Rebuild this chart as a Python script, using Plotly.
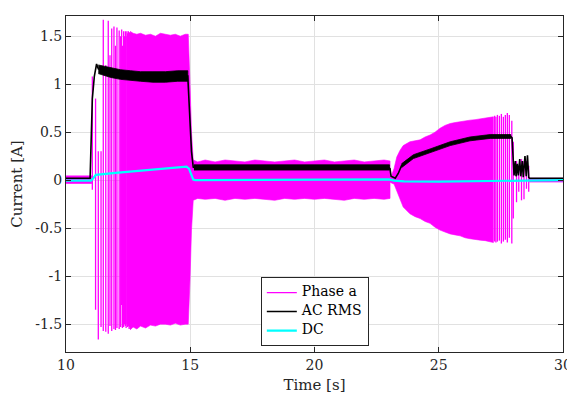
import plotly.graph_objects as go

# ---------------- data ----------------
# Phase a: dense oscillation envelopes (time [s], upper, lower)
pa_pre_t = [10.0, 10.5, 11.04]
pa_pre_hi = [0.045, 0.045, 0.045]
pa_pre_lo = [-0.035, -0.035, -0.035]

pa_main_t = [12.58, 12.7, 12.85, 13.0, 13.2, 13.4, 13.6, 13.8, 14.0, 14.2, 14.4, 14.6, 14.8, 14.92,
             14.99, 15.05, 15.12, 15.3, 15.6, 16.0, 16.4, 16.8, 17.2, 17.6, 18.0, 18.4, 18.8,
             19.2, 19.6, 20.0, 20.4, 20.8, 21.2, 21.6, 22.0, 22.4, 22.8, 23.04]
pa_main_hi = [1.55, 1.53, 1.52, 1.53, 1.51, 1.52, 1.50, 1.53, 1.52, 1.51, 1.52, 1.50, 1.52, 1.52,
              1.0, 0.5, 0.21, 0.19, 0.21, 0.19, 0.21, 0.20, 0.19, 0.21, 0.20, 0.19, 0.20,
              0.21, 0.19, 0.20, 0.21, 0.19, 0.20, 0.21, 0.19, 0.20, 0.21, 0.20]
pa_main_lo = [-1.56, -1.53, -1.55, -1.52, -1.54, -1.51, -1.52, -1.50, -1.50, -1.51, -1.49, -1.51, -1.50, -1.50,
              -1.04, -0.52, -0.21, -0.19, -0.20, -0.19, -0.21, -0.19, -0.20, -0.19, -0.20, -0.21, -0.19,
              -0.20, -0.19, -0.20, -0.19, -0.20, -0.21, -0.19, -0.20, -0.19, -0.20, -0.19]

pa_load_t = [23.04, 23.1, 23.2, 23.31, 23.44, 23.57, 23.84, 24.05, 24.25, 24.45, 24.65, 24.85, 25.05,
             25.25, 25.46, 25.66, 25.86, 26.06, 26.26, 26.46, 26.67, 26.87, 27.07, 27.2]
pa_load_hi = [0.03, 0.05, 0.12, 0.24, 0.31, 0.36, 0.40, 0.41, 0.42, 0.45, 0.47, 0.50, 0.54,
              0.57, 0.59, 0.60, 0.61, 0.62, 0.625, 0.63, 0.64, 0.65, 0.66, 0.66]
pa_load_lo = [-0.02, -0.03, -0.04, -0.12, -0.20, -0.28, -0.35, -0.38, -0.40, -0.43, -0.45, -0.49, -0.52,
              -0.54, -0.56, -0.57, -0.58, -0.60, -0.61, -0.62, -0.625, -0.63, -0.64, -0.65]

pa_post_t = [28.64, 29.3, 30.0]
pa_post_hi = [0.02, 0.02, 0.02]
pa_post_lo = [-0.02, -0.02, -0.02]

# Phase a: individually visible strokes (time, top, bottom)
stroke_t = [11.06, 11.19, 11.30, 11.41, 11.50, 11.60, 11.70, 11.77, 11.84, 11.93, 11.99, 12.05,
            12.14, 12.20, 12.24, 12.27, 12.32, 12.36, 12.39, 12.42, 12.45, 12.48, 12.51, 12.54,
            12.56, 12.59,
            27.25, 27.30, 27.36, 27.44, 27.52, 27.60, 27.68, 27.76, 27.84, 27.94, 28.0,
            28.13, 28.22, 28.33, 28.43, 28.53, 28.62]
stroke_hi = [1.08, 0.85, 0.30, 0.30, 1.67, 1.20, 1.66, 1.30, 1.58, 1.60, 1.40, 1.59,
             1.56, 1.50, 1.57, 1.40, 1.55, 1.50, 1.55, 1.50, 1.55, 1.53, 1.55, 1.52,
             1.54, 1.53,
             0.67, 0.66, 0.68, 0.67, 0.69, 0.66, 0.68, 0.70, 0.68, 0.62, 0.40,
             0.20, 0.15, 0.22, 0.20, 0.20, 0.15]
stroke_lo = [-0.10, -1.35, -1.66, -1.53, -1.57, -1.58, -1.60, -1.52, -1.57, -1.55, -1.56, -1.54,
             -1.55, -1.53, -1.30, -1.54, -1.53, -1.50, -1.52, -1.54, -1.50, -1.53, -1.52, -1.55,
             -1.53, -1.55,
             -0.64, -0.65, -0.64, -0.63, -0.66, -0.64, -0.62, -0.65, -0.60, -0.66, -0.40,
             -0.23, -0.12, -0.21, -0.20, -0.09, -0.12]

# AC RMS centre line
rms_t = [10.0, 10.97, 11.0, 11.06, 11.14, 11.23, 11.3, 11.5, 11.8, 12.2, 12.6, 13.0, 13.5, 14.0,
         14.5, 14.9, 14.97, 15.05, 15.12, 15.2, 17.0, 19.0, 21.0, 23.0, 23.04, 23.08, 23.25,
         23.37, 23.5, 23.71, 23.98, 24.25, 24.65, 25.05, 25.46, 25.86, 26.26, 26.67, 27.07,
         27.5, 27.9, 27.95, 28.0, 28.03, 28.08, 28.11, 28.16, 28.2, 28.26, 28.3, 28.36, 28.4,
         28.47, 28.52, 28.57, 28.62, 28.66, 30.0]
rms_v = [0.02, 0.02, 0.3, 0.85, 1.08, 1.21, 1.16, 1.14, 1.12, 1.10, 1.09, 1.08, 1.075, 1.075,
         1.085, 1.085, 0.7, 0.3, 0.135, 0.13, 0.13, 0.13, 0.13, 0.13, 0.12, 0.04, 0.02,
         0.07, 0.15, 0.20, 0.245, 0.275, 0.305, 0.345, 0.38, 0.41, 0.43, 0.45, 0.455,
         0.455, 0.455, 0.44, 0.15, 0.05, 0.20, 0.04, 0.17, 0.05, 0.22, 0.04, 0.20, 0.03,
         0.25, 0.04, 0.26, 0.03, 0.02, 0.02]

# AC RMS noise band (time, upper, lower)
rmsb_t = [11.3, 11.5, 11.8, 12.2, 12.6, 13.0, 13.5, 14.0, 14.5, 14.9]
rmsb_hi = [1.20, 1.19, 1.17, 1.15, 1.14, 1.13, 1.13, 1.13, 1.14, 1.14]
rmsb_lo = [1.11, 1.09, 1.07, 1.05, 1.04, 1.03, 1.02, 1.02, 1.03, 1.03]
rmsb2_t = [15.15, 17.0, 19.0, 21.0, 23.02]
rmsb2_hi = [0.16, 0.16, 0.16, 0.16, 0.16]
rmsb2_lo = [0.105, 0.105, 0.105, 0.105, 0.105]
rmsb3_t = [23.5, 23.98, 24.65, 25.46, 26.26, 27.07, 27.9]
rmsb3_hi = [0.17, 0.265, 0.325, 0.40, 0.45, 0.475, 0.475]
rmsb3_lo = [0.13, 0.225, 0.285, 0.36, 0.41, 0.435, 0.435]

# DC component
dc_t = [10.0, 11.0, 11.1, 11.2, 12.0, 13.0, 14.0, 14.85, 14.95, 15.05, 15.12, 15.2, 19.0, 23.0,
        23.2, 23.6, 25.0, 26.0, 27.0, 28.0, 30.0]
dc_v = [-0.005, -0.005, 0.02, 0.055, 0.075, 0.10, 0.12, 0.14, 0.12, 0.04, 0.005, 0.0, 0.005, 0.008,
        -0.005, -0.012, -0.015, -0.012, -0.005, 0.0, 0.0]

series_names = ['Phase a', 'AC RMS', 'DC']
x_ticks = [10, 15, 20, 25, 30]
y_ticks = [-1.5, -1, -0.5, 0, 0.5, 1, 1.5]
y_ticktext = ['-1.5', '-1', '-0.5', '0', '0.5', '1', '1.5']

MAG = '#FF00FF'
CYAN = '#00FFFF'
FONT = 'DejaVu Serif'


def legend_name(s):
    return '<span style="font-size:14px">' + s + '</span>'


fig = go.Figure()


def band(t, hi, lo, color, width=0.6):
    fig.add_trace(go.Scatter(x=list(t) + list(t)[::-1], y=list(hi) + list(lo)[::-1],
                             mode='lines', fill='toself', fillcolor=color,
                             line=dict(color=color, width=width), showlegend=False,
                             hoverinfo='skip'))


for t, hi, lo in [(pa_pre_t, pa_pre_hi, pa_pre_lo), (pa_main_t, pa_main_hi, pa_main_lo),
                  (pa_load_t, pa_load_hi, pa_load_lo), (pa_post_t, pa_post_hi, pa_post_lo)]:
    band(t, hi, lo, MAG)

sx, sy = [], []
for t, h, l in zip(stroke_t, stroke_hi, stroke_lo):
    sx += [t, t, None]
    sy += [h, l, None]
fig.add_trace(go.Scatter(x=sx, y=sy, mode='lines', name=legend_name(series_names[0]),
                         line=dict(color=MAG, width=1.3)))

for t, hi, lo in [(rmsb_t, rmsb_hi, rmsb_lo), (rmsb2_t, rmsb2_hi, rmsb2_lo), (rmsb3_t, rmsb3_hi, rmsb3_lo)]:
    band(t, hi, lo, 'black', width=0.8)

fig.add_trace(go.Scatter(x=rms_t, y=rms_v, mode='lines', name=legend_name(series_names[1]),
                         line=dict(color='black', width=1.6)))
fig.add_trace(go.Scatter(x=dc_t, y=dc_v, mode='lines', name=legend_name(series_names[2]),
                         line=dict(color=CYAN, width=2.2)))

axis_common = dict(showgrid=True, gridcolor='#e1e1e1', gridwidth=1, zeroline=False,
                   showline=True, linecolor='#262626', linewidth=1, mirror='ticks',
                   ticks='inside', ticklen=5, tickcolor='#262626', automargin=False,
                   ticklabeloverflow='allow',
                   tickfont=dict(family=FONT, size=14, color='#262626'))

# the page body adds an 8 px offset, so the figure is placed 8 px in from the window edge
fig.update_layout(
    width=567, height=387,
    margin=dict(l=58, r=12, t=8, b=43),
    paper_bgcolor='white', plot_bgcolor='white',
    font=dict(family=FONT, color='#262626'),
    xaxis=dict(range=[10, 30], tickvals=x_ticks, ticktext=[str(v) for v in x_ticks],
               title=dict(text='Time [s]', font=dict(family=FONT, size=15, color='#262626'), standoff=7),
               **axis_common),
    yaxis=dict(range=[-1.79, 1.71], tickvals=y_ticks, ticktext=y_ticktext,
               title=dict(text='Current [A]', font=dict(family=FONT, size=15, color='#262626'), standoff=10),
               **axis_common),
    legend=dict(x=0.392, y=0.223, xanchor='left', yanchor='top',
                bgcolor='white', bordercolor='#262626', borderwidth=1,
                font=dict(family=FONT, size=10, color='black'),
                tracegroupgap=0, itemwidth=30),
    showlegend=True,
)

fig.write_html('out.html')
